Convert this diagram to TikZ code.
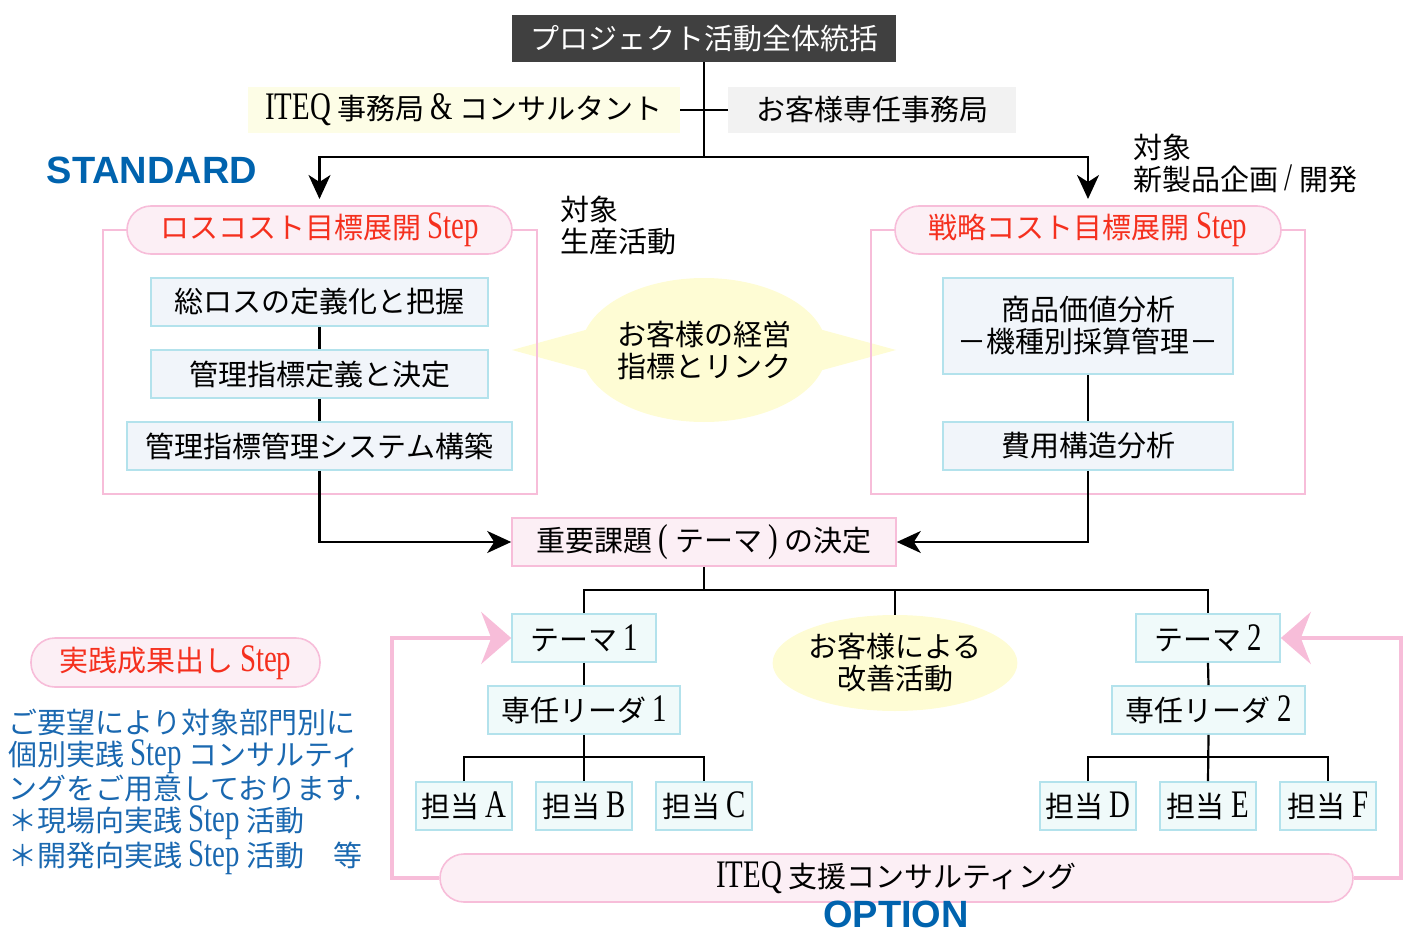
\documentclass[tikz,border=0pt]{standalone}
\usepackage{fontspec}
\setmainfont{Noto Sans CJK JP}
\newfontfamily\lt{Liberation Serif}[FakeStretch=0.74]
\newfontfamily\hd{Liberation Sans}
\usetikzlibrary{arrows.meta,shapes.geometric}
\newcommand\la[1]{{\lt\fontsize{39}{32}\selectfont #1}}
\definecolor{pinkline}{HTML}{F7BDD9}
\definecolor{pinkfill}{HTML}{FCEFF5}
\definecolor{bluebd}{HTML}{B3E2EC}
\definecolor{bluefill}{HTML}{F1F5FA}
\definecolor{cyanfill}{HTML}{F0FAFA}
\definecolor{yel}{HTML}{FEFCD4}
\definecolor{yelbox}{HTML}{FDFDE6}
\definecolor{graybox}{HTML}{F2F2F2}
\definecolor{dark}{HTML}{404040}
\definecolor{redtxt}{HTML}{F5301E}
\definecolor{bluetxt}{HTML}{1A68B0}
\definecolor{stdblue}{HTML}{0063AE}
\tikzset{
  base/.style={font=\fontsize{29}{32}\selectfont, inner sep=0pt, align=center},
  bbox/.style={base, draw=bluebd, fill=bluefill, line width=1.6pt, minimum height=48},
  cbox/.style={bbox, fill=cyanfill},
  pbox/.style={base, draw=pinkline, fill=pinkfill, line width=1.6pt},
  pill/.style={pbox, rounded corners=24, minimum height=48, text=redtxt},
  frame/.style={draw=pinkline, line width=1.8pt, inner sep=0pt},
  conn/.style={line width=2.2pt},
  arr/.style={conn, -{Stealth[length=24pt,width=22pt,inset=7pt]}},
  parr/.style={draw=pinkline, line width=4pt, -{Stealth[length=30pt,width=52pt,inset=10pt]}},
  label/.style={font=\hd\bfseries\fontsize{38}{38}\selectfont, text=stdblue, inner sep=0pt}
}
\begin{document}
\begin{tikzpicture}[x=1pt,y=-1pt]
\useasboundingbox (0,0) rectangle (1424,944);
% top
\node[base, fill=dark, text=white, minimum width=384, minimum height=47] (top) at (704,38.5) {プロジェクト活動全体統括};
\node[base, fill=yelbox, minimum width=432, minimum height=46] (iteq) at (464,110) {\la{ITEQ} 事務局 \la{\&} コンサルタント};
\node[base, fill=graybox, minimum width=288, minimum height=46] (cust) at (872,110) {お客様専任事務局};
\coordinate (j1) at (704,157);
\coordinate (sl) at (319.5,157);
\coordinate (sr) at (1088,157);
\coordinate (al) at (319.5,199);
\coordinate (ar) at (1088,199);
\draw[conn] (top.south) -- (j1);
\draw[conn] (iteq.east) -- (cust.west);
\draw[arr] (j1) -- (sl) -- (al);
\draw[arr] (j1) -- (sr) -- (ar);
\node[label] (std) at (152,170) {STANDARD};
\node[base, align=left, anchor=north west] (tgt1) at (560,196) {対象\\生産活動};
\node[base, align=left, anchor=north west] (tgt2) at (1133,134) {対象\\新製品企画 \la{/} 開発};
% callout
\fill[yel] (512,350) -- (600,326) -- (600,374) -- cycle;
\fill[yel] (896,350) -- (808,326) -- (808,374) -- cycle;
\node[base, ellipse, fill=yel, minimum width=232, minimum height=144] (link) at (704,350) {お客様の経営\\指標とリンク};
% frames
\node[frame, minimum width=434, minimum height=264] (fl) at (320,362) {};
\node[frame, minimum width=434, minimum height=264] (fr) at (1088,362) {};
\node[pill, minimum width=385] (lossL) at (319.5,230) {ロスコスト目標展開 \la{Step}};
\node[pill, minimum width=386] (lossR) at (1088,230) {戦略コスト目標展開 \la{Step}};
% left boxes
\node[bbox, minimum width=337] (b1) at (319.5,302) {総ロスの定義化と把握};
\node[bbox, minimum width=337] (b2) at (319.5,374) {管理指標定義と決定};
\node[bbox, minimum width=385] (b3) at (319.5,446) {管理指標管理システム構築};
\draw[conn] (b1.south) -- (b2.north);
\draw[conn] (b2.south) -- (b3.north);
% right boxes
\node[bbox, minimum width=290, minimum height=96] (r1) at (1088,326) {商品価値分析\\－機種別採算管理－};
\node[bbox, minimum width=290] (r2) at (1088,446) {費用構造分析};
\draw[conn] (r1.south) -- (r2.north);
% theme decision
\node[pbox, minimum width=384, minimum height=48] (theme) at (704,542) {重要課題 \la{(} テーマ \la{)} の決定};
\draw[arr] (b3.south) |- (theme.west);
\draw[arr] (r2.south) |- (theme.east);
% tree
\node[cbox, minimum width=144] (t1) at (584,638) {テーマ \la{1}};
\node[cbox, minimum width=144] (t2) at (1208,638) {テーマ \la{2}};
\node[base, ellipse, fill=yel, minimum width=240, minimum height=96] (kai) at (895,663) {お客様による\\改善活動};
\coordinate (tj) at (704,590);
\coordinate (tl) at (584,590);
\coordinate (tr) at (1208,590);
\coordinate (tm) at (895,590);
\draw[conn] (theme.south) -- (tj);
\draw[conn] (t1.north) -- (tl) -- (tr) -- (t2.north);
\draw[conn] (kai.north) -- (tm);
\node[cbox, minimum width=192] (l1) at (584,710) {専任リーダ \la{1}};
\node[cbox, minimum width=193] (l2) at (1208.5,710) {専任リーダ \la{2}};
\draw[conn] (t1.south) -- (l1.north);
\draw[conn] (t2.south) -- (l2.north);
\node[cbox, minimum width=96] (ca) at (464,806) {担当 \la{A}};
\node[cbox, minimum width=96] (cb) at (584,806) {担当 \la{B}};
\node[cbox, minimum width=96] (cc) at (704,806) {担当 \la{C}};
\node[cbox, minimum width=96] (cd) at (1088,806) {担当 \la{D}};
\node[cbox, minimum width=96] (ce) at (1208,806) {担当 \la{E}};
\node[cbox, minimum width=96] (cf) at (1328,806) {担当 \la{F}};
\draw[conn] (l1.south) -- (cb.north);
\draw[conn] (ca.north) -- ++(0,-24) -| (cc.north);
\draw[conn] (l2.south) -- (ce.north);
\draw[conn] (cd.north) -- ++(0,-24) -| (cf.north);
% support
\coordinate (pl1) at (392,878);
\coordinate (pl2) at (392,638);
\coordinate (pr1) at (1401,878);
\coordinate (pr2) at (1401,638);
\node[pbox, rounded corners=24, minimum width=913, minimum height=48] (sup) at (896.5,878) {\la{ITEQ} 支援コンサルティング};
\draw[parr] (sup.west) -- (pl1) -- (pl2) -- (t1.west);
\draw[parr] (sup.east) -- (pr1) -- (pr2) -- (t2.east);
\node[label] (opt) at (896,914) {OPTION};
% left note
\node[pill, minimum width=289, minimum height=49] (jissen) at (175.5,662.5) {実践成果出し \la{Step}};
\node[base, align=left, anchor=north west, text=bluetxt] (note) at (8,709) {ご要望により対象部門別に\\個別実践 \la{Step} コンサルティ\\ングをご用意しております\la{.}\\＊現場向実践 \la{Step} 活動\\＊開発向実践 \la{Step} 活動　等};
\end{tikzpicture}
\end{document}
